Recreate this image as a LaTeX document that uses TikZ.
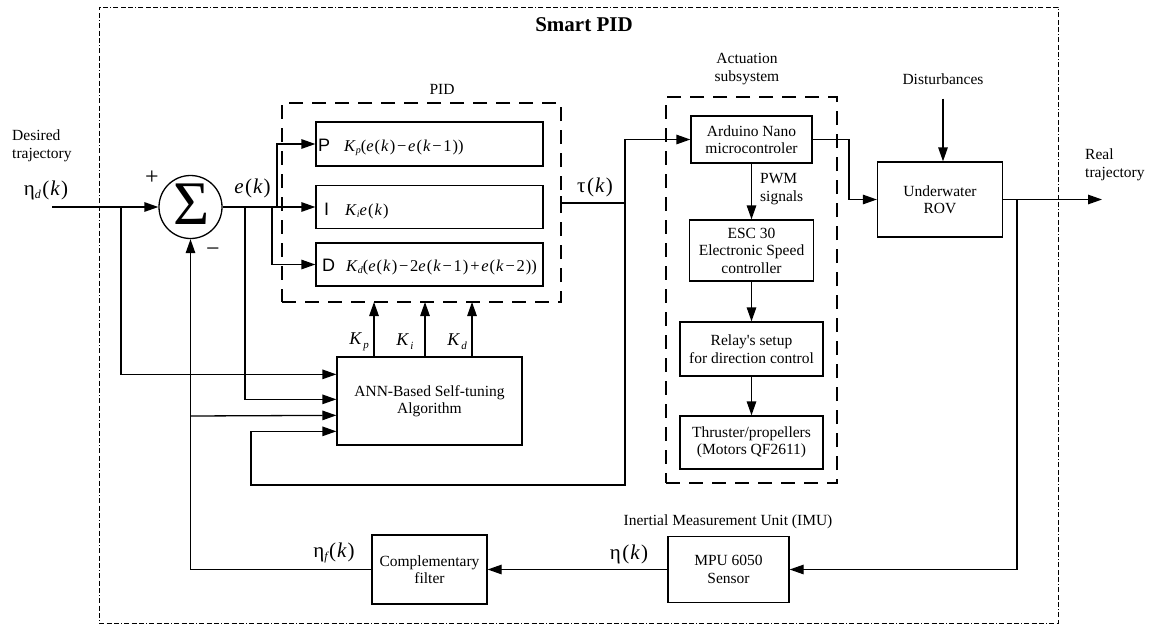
\documentclass[tikz,border=0pt]{standalone}
\usepackage{fontspec}
\setmainfont{Liberation Serif}
\newfontfamily\sansf{Liberation Sans}
\usetikzlibrary{arrows.meta}

% helpers for the signal labels
\newcommand\argk{\kern1.5pt(\kern1pt\textit{k}\kern1pt)}
\newcommand\sub[1]{\raisebox{-3pt}{\fontsize{12}{12}\selectfont\itshape #1}}
\newcommand\fsub[1]{\raisebox{-2.5pt}{\fontsize{10}{10}\selectfont\itshape #1}}
\newcommand\mi{\kern1.8pt−\kern1.8pt}
\newcommand\pl{\kern1.8pt+\kern1.8pt}
\newcommand\ek[1]{\textit{e}\kern1pt(\kern1pt\textit{k}#1\kern1pt)}

\tikzset{
  wire/.style={line width=1.3pt},
  arr/.style={wire,-{Triangle[length=14pt,width=9.5pt]}},
  blk/.style={draw,line width=1.3pt,inner sep=0pt,align=center,
    font=\fontsize{15.5}{17.5}\selectfont},
  grp/.style={draw,line width=1.4pt,dash pattern=on 14pt off 9pt,inner sep=0pt},
  outer/.style={draw,line width=0.9pt,
    dash pattern=on 5pt off 2.5pt on 5pt off 2.5pt on 5pt off 2pt on 1pt off 2pt},
  lbl/.style={inner sep=0pt,align=center,font=\fontsize{15.5}{18}\selectfont},
  sig/.style={inner sep=0pt,font=\fontsize{21}{21}\selectfont},
  gain/.style={inner sep=0pt,font=\fontsize{18}{18}\selectfont\itshape},
  pidl/.style={inner sep=0pt,anchor=base west,font=\sansf\fontsize{18}{18}\selectfont},
  form/.style={inner sep=0pt,anchor=base west,font=\fontsize{16.5}{16.5}\selectfont},
}

\begin{document}
\begin{tikzpicture}[x=1pt,y=-1pt]
\useasboundingbox (0,0) rectangle (1156,627);

% outer frame and title
\node[outer,minimum width=959pt,minimum height=616pt] (frame) at (578.5,315) {};
\node[inner sep=0pt,font=\bfseries\fontsize{21}{21}\selectfont] (title) at (584,25) {Smart PID};

% group outlines
\node[grp,minimum width=279pt,minimum height=199pt] (pid) at (421.5,202.5) {};
\node[lbl] (pidlbl) at (442,89) {PID};
\node[grp,minimum width=171pt,minimum height=386pt] (act) at (751.5,290) {};
\node[lbl] (actlbl) at (747,69) {Actuation\\subsystem};

% summing junction
\node[draw,circle,line width=1.3pt,minimum size=63pt,inner sep=0pt] (sum) at (190.5,207) {};
\node[inner sep=0pt,font=\fontsize{62}{62}\selectfont] (sigma) at (192,204) {Σ};
\node[inner sep=0pt,font=\fontsize{24}{24}\selectfont] (plus) at (152,178) {+};
\node[inner sep=0pt,font=\fontsize{24}{24}\selectfont] (minus) at (213,252) {−};

% PID branches
\node[blk,minimum width=227pt,minimum height=44pt] (P) at (429.5,144) {};
\node[blk,minimum width=227pt,minimum height=43pt] (I) at (429.5,207) {};
\node[blk,minimum width=227pt,minimum height=43pt] (D) at (429.5,264.5) {};
\node[pidl] (Pl) at (318,151) {P};
\node[pidl] (Il) at (324,215) {I};
\node[pidl] (Dl) at (322,271) {D};
\node[form] (Pf) at (344,151) {\textit{K}\fsub{p}(\ek{}\mi\ek{\mi1})};
\node[form] (If) at (345,215) {\textit{K}\fsub{i}\ek{}};
\node[form] (Df) at (346,271) {\textit{K}\fsub{d}(\ek{}\mi2\ek{\mi1}\pl\ek{\mi2})};

% tuning block
\node[blk,minimum width=185pt,minimum height=88pt] (ann) at (429.5,401) {ANN-Based Self-tuning\\Algorithm};

% actuation chain
\node[blk,minimum width=121pt,minimum height=47pt] (ard) at (751.5,139.5) {Arduino Nano\\microcontroler};
\node[blk,minimum width=124pt,minimum height=61pt] (esc) at (751.5,250.5) {ESC 30\\Electronic Speed\\controller};
\node[blk,minimum width=143pt,minimum height=54pt] (relay) at (751.5,349) {Relay\textquotesingle s setup\\for direction control};
\node[blk,minimum width=143pt,minimum height=53pt] (thr) at (751.5,442.5) {Thruster/propellers\\(Motors QF2611)};
\node[lbl,anchor=west,align=left] (pwm) at (760,189) {PWM\\signals};

% plant and measurement
\node[blk,minimum width=125pt,minimum height=75pt] (rov) at (940,199.5) {Underwater\\ROV};
\node[lbl] (dist) at (943,79) {Disturbances};
\node[blk,minimum width=121pt,minimum height=66pt] (mpu) at (728.5,569.5) {MPU 6050\\Sensor};
\node[lbl] (imu) at (728,522) {Inertial Measurement Unit (IMU)};
\node[blk,minimum width=115pt,minimum height=69pt] (comp) at (429.5,569.5) {Complementary\\filter};

% outside labels
\node[lbl,anchor=west,align=left] (des) at (12,145.5) {Desired\\trajectory};
\node[lbl,anchor=west,align=left] (real) at (1085,165) {Real\\trajectory};

% signal names
\node[sig] (etad) at (46,190) {η\sub{d}\argk};
\node[sig] (ek) at (252.5,188) {\textit{e}\argk};
\node[sig] (tau) at (595,187) {τ\argk};
\node[sig] (eta) at (629,554) {η\argk};
\node[sig] (etaf) at (334,553) {η\sub{f}\argk};
\node[gain] (Kp) at (359,342) {K\kern2pt\raisebox{-4pt}{\fontsize{11}{11}\selectfont p}};
\node[gain] (Ki) at (405,342) {K\kern2pt\raisebox{-4pt}{\fontsize{11}{11}\selectfont i}};
\node[gain] (Kd) at (457,342) {K\kern2pt\raisebox{-4pt}{\fontsize{11}{11}\selectfont d}};

% junction points
\coordinate (src) at (52,207);
\coordinate (jin) at (121,207);
\coordinate (je) at (245,207);
\coordinate (jd) at (272,207);
\coordinate (jp) at (277,207);
\coordinate (tau0) at (561,203);
\coordinate (jt) at (625,203);
\coordinate (fb) at (251,485);
\coordinate (jf) at (190.5,416);
\coordinate (jr) at (849,170);
\coordinate (jro) at (1017,199.5);
\coordinate (out) at (1102,199.5);
\coordinate (kp) at (374,302);
\coordinate (ki) at (425,302);
\coordinate (kd) at (472,302);

% forward path
\draw[arr] (src) -- (sum.west);
\draw[arr] (sum.east) -- (I.west);
\draw[arr] (jp) |- (P.west);
\draw[arr] (jd) |- (D.west);
\draw[wire] (tau0) ++(0,-7) -- ++(0,14);
\draw[arr] (tau0) -- (jt) |- (ard.west);
\draw[arr] (ard.south) -- (esc.north);
\draw[arr] (esc.south) -- (relay.north);
\draw[arr] (relay.south) -- (thr.north);
\draw[arr] (ard.east) -| (jr) |- (rov.west);
\draw[arr] ([yshift=-14pt]dist.south) -- (dist.south |- rov.north);
\draw[arr] (rov.east) -- (out);

% tuning inputs and gains
\draw[arr] (jin) |- ([yshift=-18pt]ann.north west);
\draw[arr] (je) |- ([yshift=-43pt]ann.north west);
\draw[arr] (jf) -- ([yshift=-59pt]ann.north west);
\draw[arr] (jt) |- (fb) |- ([yshift=-75pt]ann.north west);
\draw[arr] (kp |- ann.north) -- (kp);
\draw[arr] (ki |- ann.north) -- (ki);
\draw[arr] (kd |- ann.north) -- (kd);

% measurement feedback
\draw[arr] (jro) |- (mpu.east);
\draw[arr] (mpu.west) -- (comp.east);
\draw[arr] (comp.west) -| (sum.south);
\end{tikzpicture}
\end{document}
